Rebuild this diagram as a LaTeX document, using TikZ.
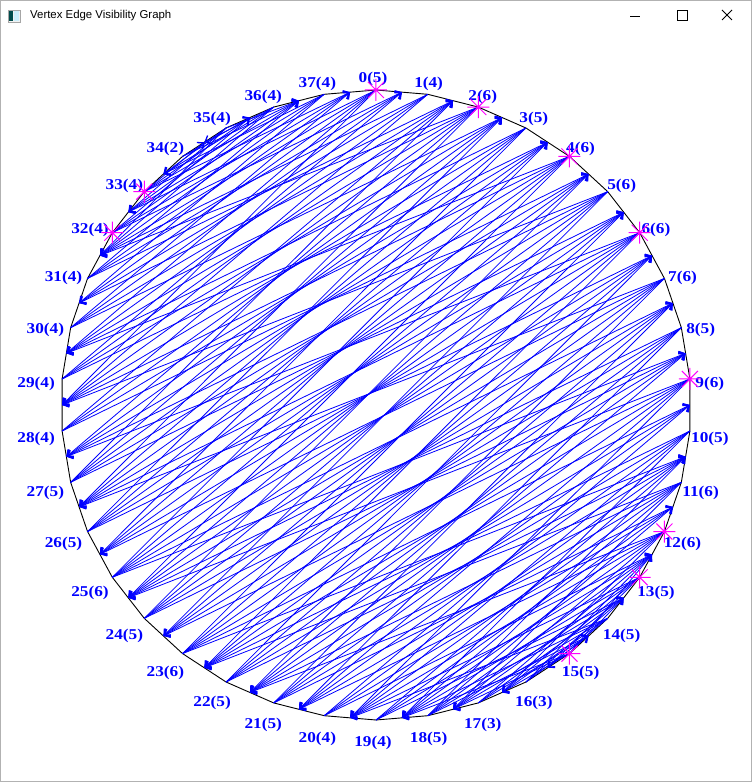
\documentclass[tikz,border=0pt]{standalone}
\usepackage{fontspec}
\setmainfont{Liberation Serif}
\newfontfamily\uifont{Liberation Sans}
\newfontfamily\lblfont{Liberation Serif}[FakeStretch=1.15]
\usetikzlibrary{arrows.meta,calc}
\definecolor{visblue}{RGB}{0,0,255}
\definecolor{starmag}{RGB}{255,0,255}
\tikzset{vis/.style={visblue,line width=0.8pt,-{Straight Barb[length=5pt,width=9pt,line width=1.3pt]}},
  rim/.style={black,line width=0.9pt},
  lbl/.style={font=\lblfont\bfseries\fontsize{15}{15}\selectfont,text=visblue,inner sep=0pt},
  starline/.style={starmag,line width=1pt}}

\begin{document}
\begin{tikzpicture}[x=1pt,y=1pt]
\useasboundingbox (-376,-377) rectangle (376,405);
\fill[white] (-376,-377) rectangle (376,405);
\draw[gray!60,line width=1pt] (-375.5,-376.5) rectangle (375.5,404.5);
\draw[gray!70,fill=gray!10] (-368,395) rectangle (-356,383);
\fill[teal!60!black] (-367,394) rectangle (-363,384);
\fill[cyan!20] (-362,394) rectangle (-357,384);
\node[font=\uifont\fontsize{11.4}{12}\selectfont,anchor=west,inner sep=0pt] (title) at (-346,389) {Vertex Edge Visibility Graph};
\draw[line width=0.8pt] (254,389) -- (264,389);
\draw[line width=0.8pt] (301,395) rectangle (311,385);
\draw[line width=0.8pt] (346,395) -- (356,385) (346,385) -- (356,395);
\foreach \k in {0,...,37}{
  \coordinate (v\k) at ({90-\k*360/38}:315);
  \coordinate (m\k) at ({90-(\k+0.5)*360/38}:{315*cos(180/38)});
}
\draw[rim] (v0) \foreach \k in {1,...,37}{ -- (v\k)} -- cycle;
\foreach \i/\c/\es in {0/5/{28,29,30,31,32},1/4/{28,29,30,31},2/6/{26,27,28,29,30,31},
  3/5/{25,26,27,28,29},4/6/{24,25,26,27,28,29},5/6/{23,24,25,26,27,28},
  6/6/{22,23,24,25,26,27},7/6/{21,22,23,24,25,26},8/5/{20,21,22,23,24},
  9/6/{19,20,21,22,23,24},10/5/{18,19,20,21,22},11/6/{17,18,19,20,21,22},
  12/6/{16,17,18,19,20,21},13/5/{15,16,17,18,19},14/5/{15,16,17,18,19},
  15/5/{12,13,16,17,18},16/3/{12,13,14},17/3/{12,13,14},18/5/{10,11,12,13,14},
  19/4/{10,11,12,13},20/4/{9,10,11,12},21/5/{7,8,9,10,11},22/5/{6,7,8,9,10},
  23/6/{5,6,7,8,9,10},24/5/{4,5,6,7,8},25/6/{3,4,5,6,7,8},26/5/{2,3,4,5,6},
  27/5/{1,2,3,4,5},28/4/{1,2,3,4},29/4/{0,1,2,3},30/4/{37,0,1,2},
  31/4/{36,37,0,1},32/4/{35,36,37,0},33/4/{34,35,36,37},34/2/{35,36},
  35/4/{31,32,33,36},36/4/{31,32,33,34},37/4/{30,31,32,33}}{
  \foreach \e in \es \draw[vis] (v\i) -- (m\e);
  \node[lbl] (l\i) at ({338*cos(90-\i*360/38)-3},{332*sin(90-\i*360/38)-6}) {\i(\c)};
}
\foreach \k in {0,2,4,6,9,12,13,15,32,33}
  \draw[starline,shift={(v\k)}] (-11,0) -- (11,0) (0,-11) -- (0,11) (-8,-8) -- (8,8) (-8,8) -- (8,-8);
\end{tikzpicture}
\end{document}
